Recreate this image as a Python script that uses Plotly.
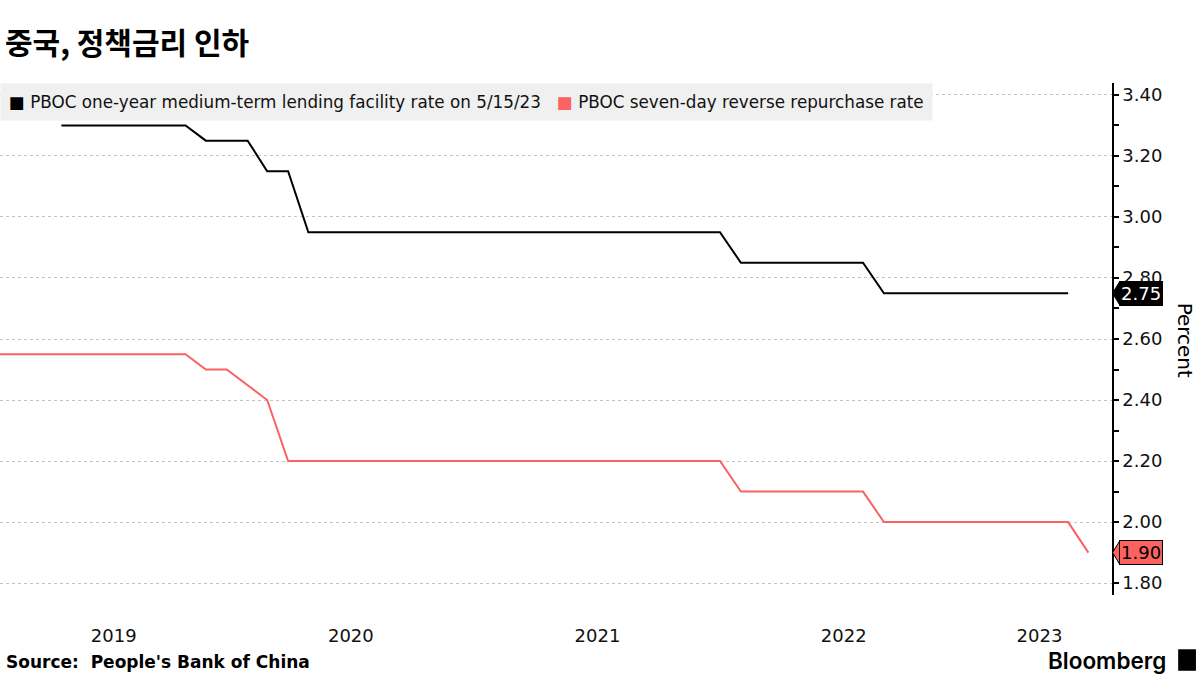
import plotly.graph_objects as go
import pandas as pd

# ---- data ----
mlf_dates = ["2019-04-30", "2019-10-31", "2019-11-30", "2020-01-31", "2020-02-29",
             "2020-03-31", "2020-04-30", "2021-12-31", "2022-01-31", "2022-07-31",
             "2022-08-31", "2023-05-31"]
mlf_values = [3.30, 3.30, 3.25, 3.25, 3.15, 3.15, 2.95, 2.95, 2.85, 2.85, 2.75, 2.75]

rr_dates = ["2018-12-31", "2019-10-31", "2019-11-30", "2019-12-31", "2020-02-29",
            "2020-03-31", "2021-12-31", "2022-01-31", "2022-07-31", "2022-08-31",
            "2023-05-31", "2023-06-30"]
rr_values = [2.55, 2.55, 2.50, 2.50, 2.40, 2.20, 2.20, 2.10, 2.10, 2.00, 2.00, 1.90]

series_names = ["PBOC one-year medium-term lending facility rate on 5/15/23",
                "PBOC seven-day reverse repurchase rate"]
year_labels = ["2019", "2020", "2021", "2022", "2023"]
y_ticks = [1.80, 2.00, 2.20, 2.40, 2.60, 2.80, 3.00, 3.20, 3.40]

title_text = "중국, 정책금리 인하"
source_text = "Source:  People's Bank of China"
x_range = ["2019-01-29", "2023-08-04"]
y_range = [1.761, 3.439]

BLACK = "#000000"
RED = "#fb6262"
FONT = "DejaVu Sans"

fig = go.Figure()

fig.add_trace(go.Scatter(x=mlf_dates, y=mlf_values, mode="lines", name=series_names[0],
                         line=dict(color=BLACK, width=2), showlegend=False, hoverinfo="skip"))
fig.add_trace(go.Scatter(x=rr_dates, y=rr_values, mode="lines", name=series_names[1],
                         line=dict(color=RED, width=2), showlegend=False, hoverinfo="skip"))

# year label positions: centre of the visible part of each year
r0, r1 = pd.Timestamp(x_range[0]), pd.Timestamp(x_range[1])
tickvals = []
for y in year_labels:
    a = max(pd.Timestamp(f"{y}-01-01"), r0)
    b = min(pd.Timestamp(f"{int(y)+1}-01-01"), r1)
    tickvals.append(a + (b - a) / 2)

fig.update_layout(
    width=1200, height=675,
    margin=dict(l=0, r=88, t=83, b=80, autoexpand=False),
    paper_bgcolor="white", plot_bgcolor="white",
    font=dict(family=FONT, size=16, color="black"),
    showlegend=False,
    xaxis=dict(type="date", range=x_range, showgrid=False, showline=False, zeroline=False,
               tickvals=tickvals, ticktext=year_labels, ticks="", automargin=False,
               tickfont=dict(family=FONT, size=18, color="#111"), ticklabelstandoff=28),
    yaxis=dict(side="right", range=y_range, tickvals=y_ticks, tickformat=".2f", automargin=False,
               showline=True, linecolor=BLACK, linewidth=1.5,
               ticks="outside", ticklen=5, tickcolor=BLACK, tickwidth=1.5,
               minor=dict(dtick=0.1, tick0=1.7, ticks="outside", ticklen=5, tickcolor=BLACK, showgrid=False),
               showgrid=True, gridcolor="#c4c4c4", griddash="dot", gridwidth=1,
               zeroline=False, tickfont=dict(family=FONT, size=18, color="#111")),
)

annotations = []
shapes = []
# legend (drawn as a text box)
legend_html = (f"<span style='color:{BLACK}'>■</span> {series_names[0]}"
               f"&nbsp;&nbsp;&nbsp;<span style='color:{RED}'>■</span> {series_names[1]}")
annotations.append(dict(text=legend_html, xref="paper", yref="paper", x=0.0, y=1.0,
                        xanchor="left", yanchor="top", showarrow=False, align="left",
                        bgcolor="#f0f0f0", borderpad=8,
                        font=dict(family=FONT, size=16.8, color="#111")))
# title
annotations.append(dict(text=title_text, xref="paper", yref="paper", x=0.003, y=1.082,
                        xanchor="left", yanchor="middle", showarrow=False,
                        font=dict(family="Noto Sans CJK KR", size=30, color="black", weight="bold")))
# source
annotations.append(dict(text=source_text, xref="paper", yref="paper", x=0.004, y=-0.131,
                        xanchor="left", yanchor="middle", showarrow=False,
                        font=dict(family=FONT, size=17, color="black", weight="bold")))
# Bloomberg
annotations.append(dict(text="Bloomberg", xref="paper", yref="paper", x=1.0504, y=-0.127,
                        xanchor="right", yanchor="middle", showarrow=False,
                        font=dict(family="Inter", size=22.5, color="black", weight=600)))
shapes.append(dict(type="rect", xref="paper", yref="paper", x0=1.0595, x1=1.0755,
                   y0=-0.148, y1=-0.106, fillcolor="black", line=dict(width=0)))
# axis title
annotations.append(dict(text="Percent", xref="paper", yref="paper", x=1.066, y=0.498,
                        xanchor="center", yanchor="middle", showarrow=False, textangle=90,
                        font=dict(family=FONT, size=20, color="black")))

# last-value tags
h = 0.04
for val, bg, fg, border in [(mlf_values[-1], BLACK, "white", BLACK), (rr_values[-1], RED, "black", BLACK)]:
    annotations.append(dict(text=f"{val:.2f}", xref="paper", yref="y", x=1.0062, y=val,
                            xanchor="left", yanchor="middle", showarrow=False,
                            bgcolor=bg, bordercolor=border, borderwidth=1, borderpad=1,
                            font=dict(family=FONT, size=18, color=fg)))
    shapes.append(dict(type="path", xref="paper", yref="y",
                       path=f"M 1.0005,{val} L 1.0072,{val+h} L 1.0072,{val-h} Z",
                       fillcolor=bg, line=dict(color=border, width=1)))

fig.update_layout(annotations=annotations, shapes=shapes)
fig.write_html("out.html", config={"displayModeBar": False},
               post_script="document.body.style.margin='0';document.body.style.padding='0';")
